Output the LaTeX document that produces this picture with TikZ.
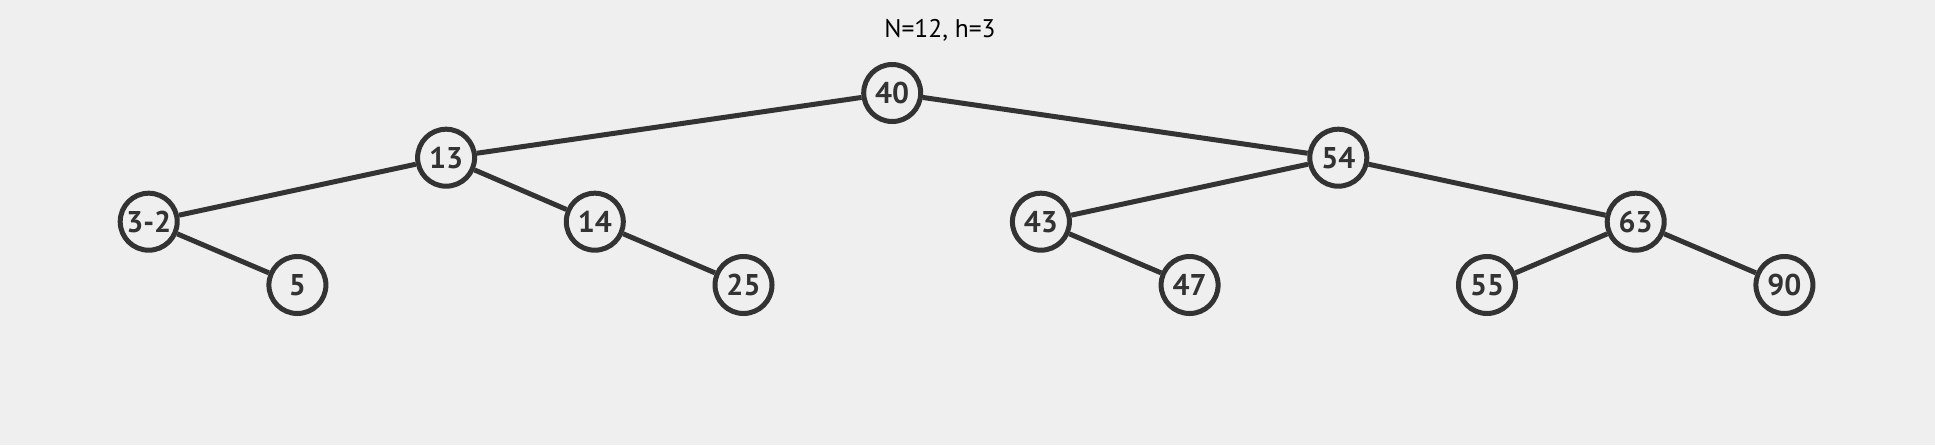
\documentclass[tikz,border=0pt]{standalone}
\usepackage{fontspec}
\setmainfont{PT Sans}
\definecolor{bg}{HTML}{EFEFEF}
\definecolor{ink}{HTML}{333333}
\begin{document}
\begin{tikzpicture}[x=1pt,y=-1pt,
  tn/.style={circle,draw=ink,line width=5pt,fill=bg,minimum size=57pt,inner sep=0pt,
    text=ink,font=\fontsize{30}{32}\selectfont\bfseries},
  ed/.style={draw=ink,line width=5pt}]
\fill[bg] (0,0) rectangle (1935,445);
\useasboundingbox (0,0) rectangle (1935,445);
\def\u{148.7}
\node[text=black,font=\fontsize{25.5}{28}\selectfont] (t) at (940,30) {N=12, h=3};
\node[tn] (n40) at (6*\u,93) {40};
\node[tn] (n13) at (3*\u,157.7) {13};
\node[tn] (n54) at (9*\u,157.7) {54};
\node[tn] (n32) at (1*\u,221.7) {3-2};
\node[tn] (n14) at (4*\u,221.7) {14};
\node[tn] (n43) at (7*\u,221.7) {43};
\node[tn] (n63) at (11*\u,221.7) {63};
\node[tn] (n5) at (2*\u,285) {5};
\node[tn] (n25) at (5*\u,285) {25};
\node[tn] (n47) at (8*\u,285) {47};
\node[tn] (n55) at (10*\u,285) {55};
\node[tn] (n90) at (12*\u,285) {90};
\path[ed] (n40) -- (n13);
\path[ed] (n40) -- (n54);
\path[ed] (n13) -- (n32);
\path[ed] (n13) -- (n14);
\path[ed] (n32) -- (n5);
\path[ed] (n14) -- (n25);
\path[ed] (n54) -- (n43);
\path[ed] (n54) -- (n63);
\path[ed] (n43) -- (n47);
\path[ed] (n63) -- (n55);
\path[ed] (n63) -- (n90);
\end{tikzpicture}
\end{document}
